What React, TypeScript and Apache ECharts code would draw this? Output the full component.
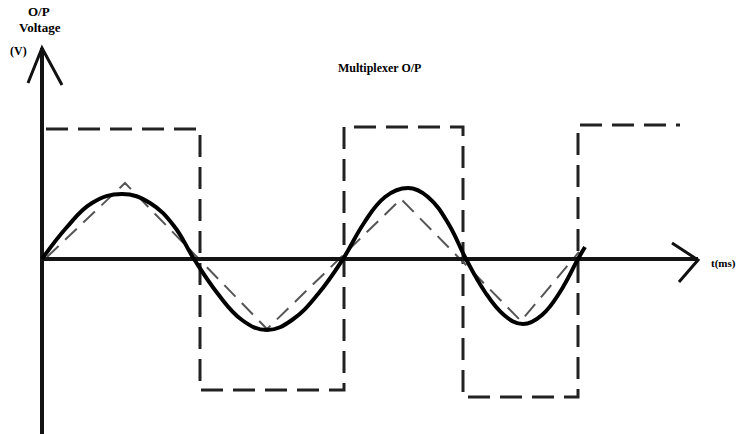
import React, { useEffect, useRef } from "react";
import * as echarts from "echarts";

// Units: t in ms-like units (1 unit ≈ 10 px), v in volts-like units (1 unit ≈ 10 px)
const sineTime: number[] = [
  0, 2.5, 5.0, 8.0, 10.8, 13.2, 15.2,
  17.6, 20.0, 22.5, 25.0, 27.6, 30.1,
  32.2, 34.3, 36.6, 38.6, 40.6, 42.4,
  44.3, 46.2, 48.1, 50.0, 51.8, 53.6, 54.3,
];
const sineVolt: number[] = [
  0, 3.2, 5.6, 6.5, 5.6, 3.3, 0,
  -3.5, -6.1, -7.1, -6.1, -3.5, 0,
  3.6, 6.2, 7.1, 6.2, 3.6, 0,
  -3.3, -5.6, -6.5, -5.6, -3.3, 0, 1.2,
];

const triangleWave: [number, number][] = [
  [0.5, 0.2], [8.3, 7.6], [22.5, -7.0], [35.9, 6.0], [47.9, -6.2], [53.7, 0.7],
];

const squareWave: [number, number][] = [
  [0.4, 13.0], [15.8, 13.0], [15.8, -13.1], [30.2, -13.1], [30.2, 13.2],
  [42.1, 13.2], [42.1, -13.8], [53.6, -13.8], [53.6, 13.4], [63.8, 13.4],
];

const timeAxisLine: [number, number][] = [[0, 0], [65.6, 0]];
const voltAxisLine: [number, number][] = [[0, -17.6], [0, 21.1]];
const voltArrow: [number, number][] = [[-1.4, 17.6], [0, 21.1], [2.0, 17.4]];
const timeArrow: [number, number][] = [[63.0, 1.6], [65.6, -0.1], [63.7, -2.3]];

const yTitleLines = ["O/P", "Voltage"];
const yUnit = "(V)";
const chartTitle = "Multiplexer O/P";
const xTitle = "t(ms)";

const FONT = "serif";

export default function App() {
  const ref = useRef<HTMLDivElement>(null);
  useEffect(() => {
    if (!ref.current) return;
    const chart = echarts.init(ref.current, undefined, { renderer: "svg" });
    const lineSeries = (
      data: [number, number][],
      color: string,
      width: number,
      type: any = "solid",
      smooth: number | boolean = false
    ) => ({
      type: "line",
      data,
      symbol: "none",
      silent: true,
      smooth,
      lineStyle: { color, width, type, cap: "butt", join: "miter" },
    });
    const txt = (text: string, left: number, top: number, size: number) => ({
      type: "text",
      left,
      top,
      style: {
        text,
        fontFamily: FONT,
        fontWeight: "bold",
        fontSize: size,
        fill: "#000",
      },
    });
    const sineWave = sineTime.map((t, i) => [t, sineVolt[i]] as [number, number]);
    chart.setOption({
      animation: false,
      backgroundColor: "#ffffff",
      grid: { left: 0, right: 0, top: 0, bottom: 0 },
      xAxis: { type: "value", min: -4.2, max: 69.6, show: false },
      yAxis: { type: "value", min: -17.5, max: 25.9, show: false },
      series: [
        lineSeries(squareWave, "#222222", 3, [22, 10]),
        lineSeries(triangleWave, "#555555", 2, [16, 9]),
        lineSeries(timeAxisLine, "#141414", 4),
        lineSeries(voltAxisLine, "#141414", 4),
        lineSeries(voltArrow, "#111111", 3),
        lineSeries(timeArrow, "#111111", 3),
        lineSeries(sineWave, "#000000", 4, "solid", 0.4),
      ],
      graphic: [
        txt(yTitleLines[0], 28, 5, 13),
        txt(yTitleLines[1], 19, 21, 13),
        txt(yUnit, 10, 45, 12),
        txt(chartTitle, 338, 62, 12),
        txt(xTitle, 711, 257, 11),
      ],
    });
    return () => chart.dispose();
  }, []);
  return (
    <div
      ref={ref}
      style={{ position: "absolute", left: 0, top: 0, width: 738, height: 434 }}
    />
  );
}
